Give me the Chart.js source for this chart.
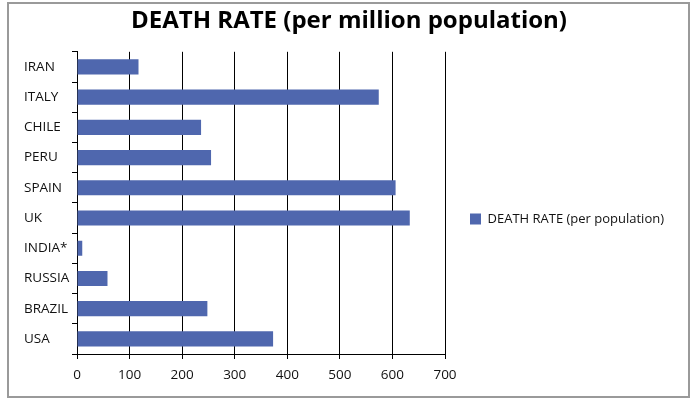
<!DOCTYPE html>
<html>
<head>
<meta charset="utf-8">
<script src="https://cdn.jsdelivr.net/npm/chart.js@4"></script>
<style>
  html, body { margin: 0; padding: 0; background: #ffffff; }
  #wrap { width: 694px; height: 406px; position: relative; }
</style>
</head>
<body>
<div id="wrap"><canvas id="c" width="694" height="406"></canvas></div>
<script>
const categories = ["IRAN", "ITALY", "CHILE", "PERU", "SPAIN", "UK", "INDIA*", "RUSSIA", "BRAZIL", "USA"];
const deathRate = [117, 574, 236, 255, 606, 633, 10, 58, 248, 373];
const seriesName = "DEATH RATE (per population)";
const chartTitle = "DEATH RATE (per million population)";
const xTicks = [0, 100, 200, 300, 400, 500, 600, 700];

const legendFont = { family: 'Open Sans', size: 13 };
const legendPad = 25;
const legendBox = 11;
// measure legend text to place the plot's right edge
const mctx = document.createElement('canvas').getContext('2d');
mctx.font = legendFont.size + 'px "' + legendFont.family + '"';
const legendTextW = mctx.measureText(seriesName).width;
const legendW = legendPad + legendBox + legendFont.size / 2 + legendTextW + 10;
const rightPad = Math.max(0, 694 - 445 - legendW);

const frame = {
  id: 'frame',
  beforeDraw(chart) {
    const ctx = chart.ctx;
    ctx.save();
    ctx.fillStyle = '#ffffff';
    ctx.fillRect(0, 0, chart.width, chart.height);
    ctx.strokeStyle = '#9a9a9a';
    ctx.lineWidth = 2;
    ctx.strokeRect(8, 3, 681, 394);
    ctx.restore();
  }
};

new Chart(document.getElementById('c'), {
  type: 'bar',
  data: {
    labels: categories,
    datasets: [{
      label: seriesName,
      data: deathRate,
      backgroundColor: '#4f67ae',
      borderWidth: 0,
      barPercentage: 0.5,
      categoryPercentage: 1.0
    }]
  },
  options: {
    indexAxis: 'y',
    responsive: false,
    animation: false,
    devicePixelRatio: 1,
    layout: { padding: { left: 24, right: rightPad, top: 0, bottom: 12 } },
    plugins: {
      title: {
        display: true,
        text: chartTitle,
        color: '#000000',
        font: { family: 'Open Sans', size: 24, weight: 'bold' },
        padding: { top: 7, bottom: 16 }
      },
      legend: {
        position: 'right',
        maxWidth: 400,
        title: {
          display: true,
          text: ' ',
          font: { size: 10 },
          padding: { top: 32, bottom: 0 }
        },
        labels: {
          boxWidth: legendBox,
          boxHeight: legendBox,
          padding: legendPad,
          color: '#111111',
          font: legendFont
        }
      },
      tooltip: { enabled: false }
    },
    scales: {
      x: {
        min: 0,
        max: 700,
        afterBuildTicks(scale) { scale.ticks = xTicks.map(v => ({ value: v })); },
        afterFit(scale) { scale.height = 40; },
        grid: { color: '#000000', lineWidth: 1, tickLength: 5, drawTicks: true },
        border: { display: true, color: '#000000', width: 1 },
        ticks: { color: '#111111', padding: 8, font: { family: 'Open Sans', size: 13.5 } }
      },
      y: {
        afterFit(scale) { scale.width = 53; },
        grid: { drawOnChartArea: false, color: '#000000', tickLength: 5, offset: true },
        border: { display: true, color: '#000000', width: 1 },
        ticks: { color: '#111111', crossAlign: 'far', font: { family: 'Open Sans', size: 13.5 } }
      }
    }
  },
  plugins: [frame]
});
</script>
</body>
</html>
